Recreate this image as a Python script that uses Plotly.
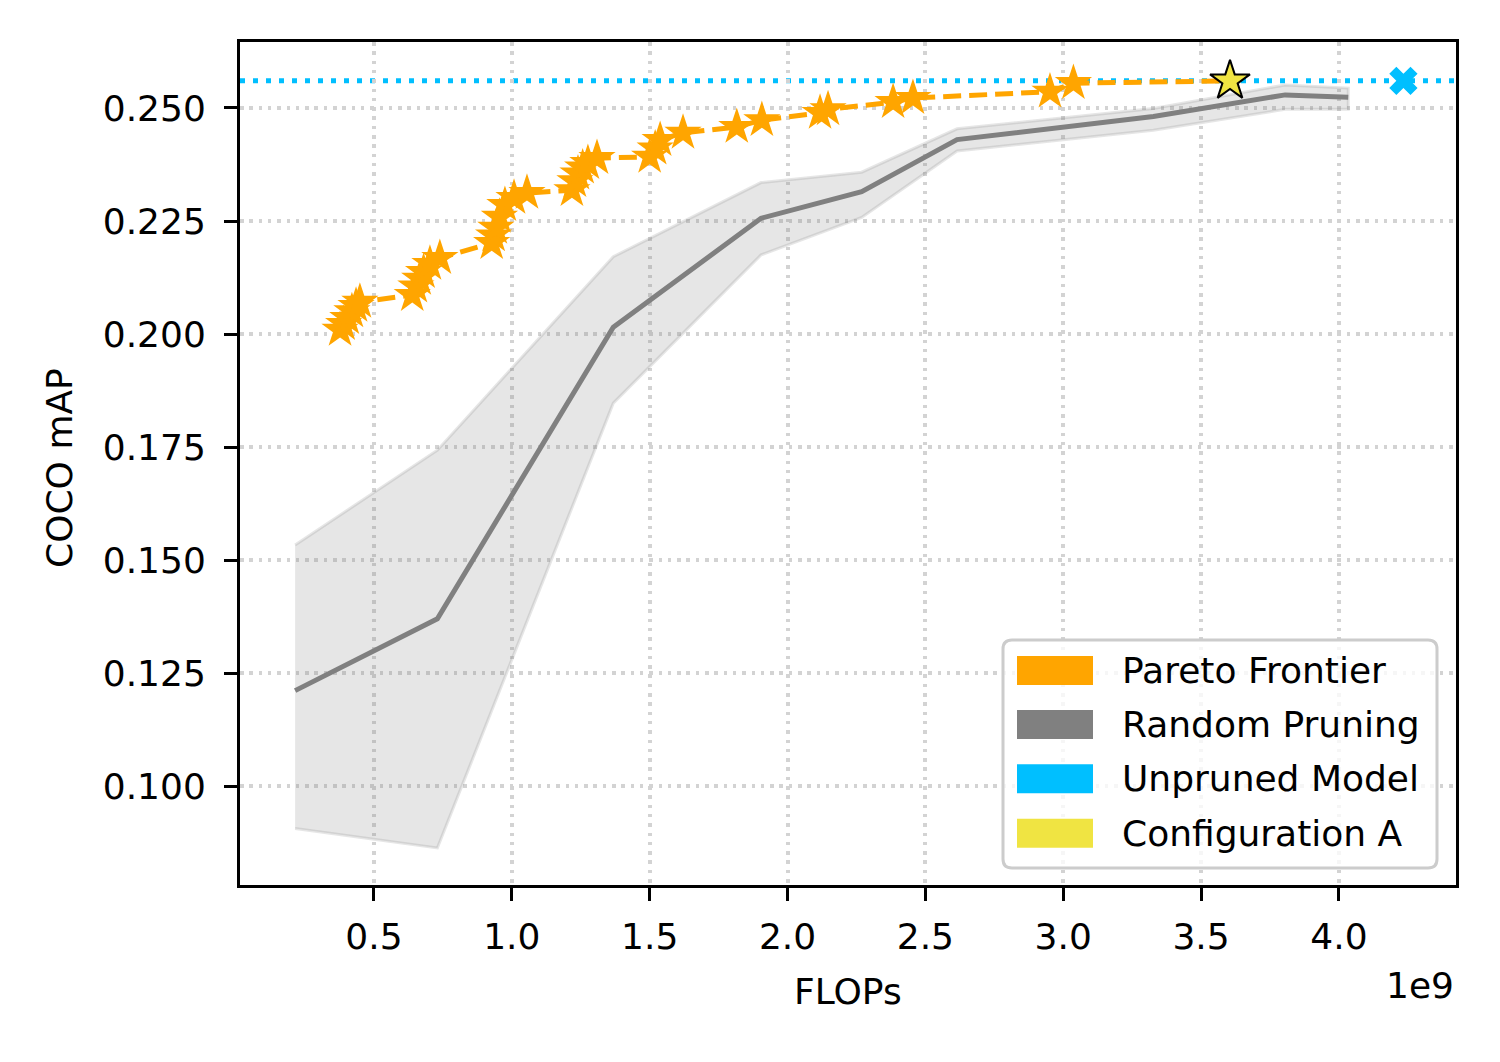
import plotly.graph_objects as go

### DADOS
pareto_flops = [0.377e9, 0.390e9, 0.405e9, 0.420e9, 0.435e9, 0.449e9,
                0.639e9, 0.652e9, 0.666e9, 0.680e9, 0.703e9, 0.739e9,
                0.927e9, 0.934e9, 0.942e9, 0.955e9, 0.975e9, 1.008e9, 1.055e9,
                1.218e9, 1.229e9, 1.240e9, 1.257e9, 1.276e9, 1.309e9,
                1.500e9, 1.520e9, 1.538e9, 1.621e9,
                1.816e9, 1.907e9,
                2.118e9, 2.147e9,
                2.383e9, 2.455e9,
                2.952e9, 3.037e9]
pareto_map = [0.2009, 0.2022, 0.2035, 0.2050, 0.2062, 0.2071,
              0.2086, 0.2105, 0.2122, 0.2137, 0.2155, 0.2168,
              0.2201, 0.2218, 0.2235, 0.2259, 0.2285, 0.2301, 0.2312,
              0.2318, 0.2338, 0.2355, 0.2368, 0.2378, 0.2389,
              0.2392, 0.2410, 0.2429, 0.2445,
              0.2458, 0.2473,
              0.2489, 0.2497,
              0.2513, 0.2522,
              0.2536, 0.2555]

config_a_flops = 3.605e9
config_a_map = 0.2560

unpruned_flops = 4.234e9
unpruned_map = 0.2560

random_flops = [0.214e9, 0.730e9, 1.368e9, 1.904e9, 2.269e9, 2.615e9, 3.327e9, 3.805e9, 4.034e9]
random_map = [0.1211, 0.1370, 0.2015, 0.2256, 0.2315, 0.2430, 0.2481, 0.2529, 0.2524]
random_upper = [0.1533, 0.1743, 0.2171, 0.2335, 0.2358, 0.2454, 0.2499, 0.2551, 0.2544]
random_lower = [0.0906, 0.0863, 0.1847, 0.2175, 0.2258, 0.2405, 0.2451, 0.2497, 0.2497]

xtick_vals = [0.5e9, 1.0e9, 1.5e9, 2.0e9, 2.5e9, 3.0e9, 3.5e9, 4.0e9]
xtick_text = ['0.5', '1.0', '1.5', '2.0', '2.5', '3.0', '3.5', '4.0']
ytick_vals = [0.100, 0.125, 0.150, 0.175, 0.200, 0.225, 0.250]

legend_labels = ['Pareto Frontier', 'Random Pruning', 'Unpruned Model', 'Configuration A']

ORANGE = '#FFA500'
GRAY = '#808080'
CYAN = '#00BFFF'
YELLOW = '#F0E442'
legend_colors = [ORANGE, GRAY, CYAN, YELLOW]

FONT = 'DejaVu Sans'
FS = 36

W, H = 1500, 1062
L, R, T, B = 240, 1456, 42, 885  # área do gráfico em px (na imagem de referência)
OFF = 8  # margem do body da página html


def px_x(p):
    return (p - L) / (R - L)


def px_y(p):
    return (B - p) / (B - T)


fig = go.Figure()

# faixa do random pruning
fig.add_trace(go.Scatter(x=random_flops + random_flops[::-1],
                         y=random_upper + random_lower[::-1],
                         fill='toself', fillcolor='rgba(128,128,128,0.2)',
                         line=dict(color='rgba(128,128,128,0.2)', width=3),
                         mode='lines', hoverinfo='skip', showlegend=False))
fig.add_trace(go.Scatter(x=random_flops, y=random_map, mode='lines',
                         line=dict(color=GRAY, width=5), showlegend=False))

# fronteira de pareto
fig.add_trace(go.Scatter(x=pareto_flops + [config_a_flops], y=pareto_map + [config_a_map],
                         mode='lines', line=dict(color=ORANGE, width=5, dash='18px,8px'),
                         showlegend=False))
fig.add_trace(go.Scatter(x=pareto_flops, y=pareto_map, mode='markers',
                         marker=dict(symbol='star', size=28, color=ORANGE, line=dict(width=0)),
                         showlegend=False))
fig.add_trace(go.Scatter(x=[config_a_flops], y=[config_a_map], mode='markers',
                         marker=dict(symbol='star', size=30, color=YELLOW,
                                     line=dict(color='black', width=2)),
                         showlegend=False))
fig.add_trace(go.Scatter(x=[unpruned_flops], y=[unpruned_map], mode='markers',
                         marker=dict(symbol='x', size=25, color=CYAN, line=dict(width=0)),
                         showlegend=False))

fig.add_hline(y=unpruned_map, line=dict(color=CYAN, width=5, dash='5px,8px'), layer='below')

# legenda manual (retângulos como no matplotlib)
x0, x1, y0, y1, r = 1003, 1437, 640, 868, 9
path = (f'M {px_x(x0 + r)},{px_y(y0)} L {px_x(x1 - r)},{px_y(y0)} '
        f'Q {px_x(x1)},{px_y(y0)} {px_x(x1)},{px_y(y0 + r)} '
        f'L {px_x(x1)},{px_y(y1 - r)} Q {px_x(x1)},{px_y(y1)} {px_x(x1 - r)},{px_y(y1)} '
        f'L {px_x(x0 + r)},{px_y(y1)} Q {px_x(x0)},{px_y(y1)} {px_x(x0)},{px_y(y1 - r)} '
        f'L {px_x(x0)},{px_y(y0 + r)} Q {px_x(x0)},{px_y(y0)} {px_x(x0 + r)},{px_y(y0)} Z')
fig.add_shape(type='path', path=path, xref='paper', yref='paper', layer='above',
              fillcolor='rgba(255,255,255,0.8)', line=dict(color='#cccccc', width=3))
row_y = [670.5, 724.5, 778.7, 833.3]
for lab, col, yc in zip(legend_labels, legend_colors, row_y):
    fig.add_shape(type='rect', xref='paper', yref='paper', layer='above',
                  x0=px_x(1017), x1=px_x(1093), y0=px_y(yc + 14.5), y1=px_y(yc - 14.5),
                  fillcolor=col, line=dict(width=0))
    fig.add_annotation(text=lab, xref='paper', yref='paper', x=px_x(1120), y=px_y(yc),
                       xanchor='left', yanchor='middle', showarrow=False,
                       font=dict(family=FONT, size=FS, color='black'))

# títulos dos eixos
fig.add_annotation(text='FLOPs', xref='paper', yref='paper', x=0.5, y=px_y(992),
                   xanchor='center', yanchor='middle', showarrow=False,
                   font=dict(family=FONT, size=FS, color='black'))
fig.add_annotation(text='COCO mAP', xref='paper', yref='paper', x=px_x(60), y=px_y(468),
                   xanchor='center', yanchor='middle', textangle=-90, showarrow=False,
                   font=dict(family=FONT, size=FS, color='black'))
fig.add_annotation(text='1e9', xref='paper', yref='paper', x=px_x(1456), y=px_y(985),
                   xanchor='right', yanchor='middle', showarrow=False,
                   font=dict(family=FONT, size=FS, color='black'))

axis_common = dict(showline=True, linecolor='black', linewidth=3, mirror=True,
                   ticks='outside', ticklen=13, tickwidth=3, tickcolor='black',
                   showgrid=True, gridcolor='#d3d3d3', gridwidth=3.5, griddash='3.5px,5.8px',
                   zeroline=False, tickfont=dict(family=FONT, size=FS, color='black'))
fig.update_xaxes(range=[0.0141e9, 4.4247e9], tickvals=xtick_vals, ticktext=xtick_text,
                 ticklabelstandoff=5, **axis_common)
fig.update_yaxes(range=[0.0781, 0.2646], tickvals=ytick_vals, tickformat='.3f',
                 ticklabelstandoff=11, **axis_common)

fig.update_layout(autosize=False, width=W, height=H, plot_bgcolor='white', paper_bgcolor='white',
                  margin=dict(l=L - OFF, r=W - R + OFF, t=T - OFF, b=H - B + OFF), showlegend=False,
                  font=dict(family=FONT, size=FS, color='black'))
fig.write_html('out.html')
